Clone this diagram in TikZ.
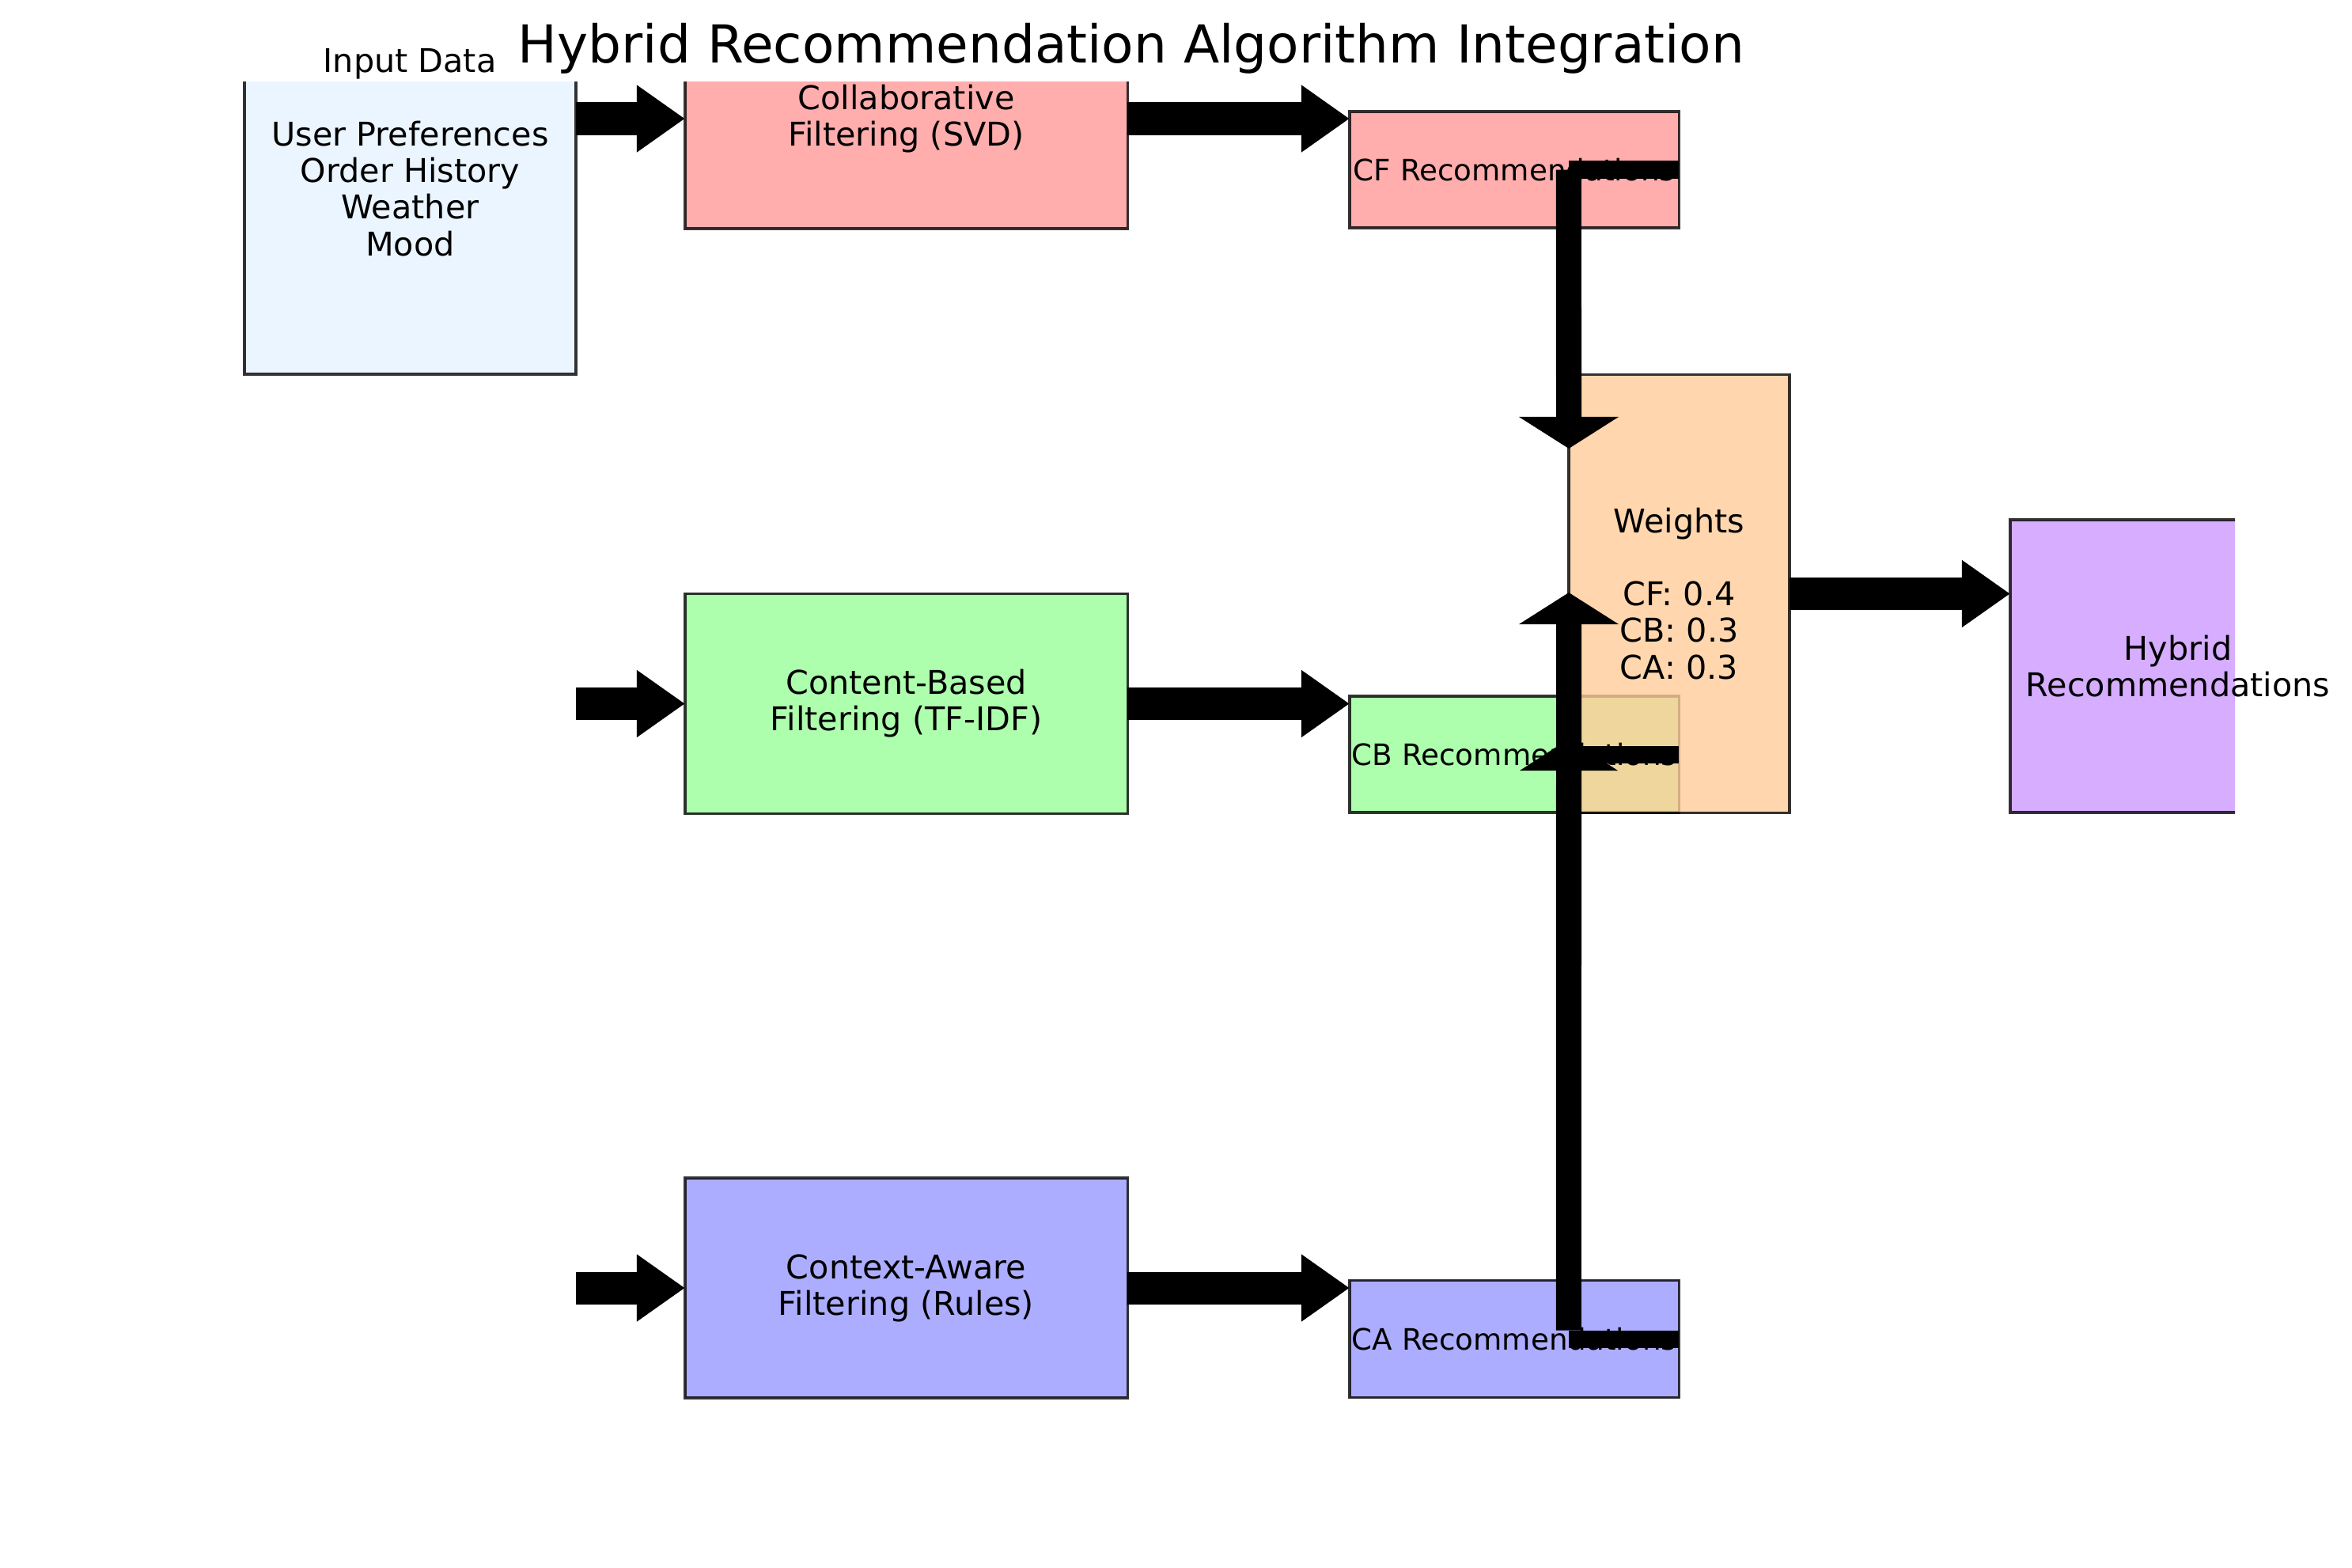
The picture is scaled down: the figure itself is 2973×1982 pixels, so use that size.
\documentclass[tikz,border=0pt]{standalone}
\usepackage{fontspec}
\setmainfont{DejaVu Sans}
\usetikzlibrary{arrows.meta}
\definecolor{inpc}{HTML}{E6F3FF}
\definecolor{cfc}{HTML}{FF9999}
\definecolor{cbc}{HTML}{99FF99}
\definecolor{cac}{HTML}{9999FF}
\definecolor{wc}{HTML}{FFCC99}
\definecolor{hc}{HTML}{CC99FF}
\newcommand{\mainsize}{\fontsize{11.75pt}{13.1pt}\selectfont}
\newcommand{\recsize}{\fontsize{10.6pt}{12pt}\selectfont}
\newcommand{\titlesize}{\fontsize{18.8pt}{22pt}\selectfont}
\tikzset{
  box/.style={rectangle, inner sep=0pt, outer sep=0pt, draw=black, draw opacity=0.8, fill opacity=0.8, line width=0.033cm},
  lbl/.style={inner sep=0pt, align=center, font=\mainsize},
  reclbl/.style={inner sep=0pt, font=\recsize},
  bigarrow/.style={line width=0.41cm, line cap=butt, -{Triangle[length=0.61cm,width=0.81cm]}},
  varrow/.style={line width=0.32cm, line cap=butt, -{Triangle[length=0.40cm,width=1.24cm]}},
  hbar/.style={line width=0.22cm, line cap=butt},
}
\begin{document}
\begin{tikzpicture}[x=0.01cm,y=-0.01cm]
\useasboundingbox (0,0) rectangle (2973,1982);
\begin{scope}
  \clip (0,104) rectangle (2825,1982);
  \node[box, fill=inpc, minimum width=4.19cm, minimum height=4.64cm] (inp) at (518.5,241) {};
  \node[box, fill=cfc, minimum width=5.59cm, minimum height=2.78cm] (coll) at (1145.5,150) {};
  \node[box, fill=cfc, minimum width=4.16cm, minimum height=1.47cm] (cfrec) at (1914,214.5) {};
  \node[box, fill=cbc, minimum width=5.59cm, minimum height=2.78cm] (cont) at (1145.5,889.5) {};
  \node[box, fill=cbc, minimum width=4.16cm, minimum height=1.47cm] (cbrec) at (1914,953.5) {};
  \node[box, fill=cac, minimum width=5.59cm, minimum height=2.78cm] (ctx) at (1145.5,1628) {};
  \node[box, fill=cac, minimum width=4.16cm, minimum height=1.48cm] (carec) at (1914,1692.5) {};
  \node[box, fill=wc, minimum width=2.79cm, minimum height=5.53cm] (wts) at (2122.5,750.5) {};
  \node[box, fill=hc, minimum width=4.24cm, minimum height=3.70cm] (hyb) at (2753,842) {};
\end{scope}
% texts
\node[lbl, font=\titlesize, anchor=base] (title) at (1430,80) {Hybrid Recommendation Algorithm Integration};
\node[lbl, anchor=base] (inplbl) at (518,92) {Input Data};
\node[lbl] (inptxt) at (518.5,238.5) {User Preferences\\Order History\\Weather\\Mood};
\node[lbl] (colltxt) at (coll.center) {Collaborative\\Filtering (SVD)};
\node[lbl] (conttxt) at (cont.center) {Content-Based\\Filtering (TF-IDF)};
\node[lbl] (ctxtxt) at (ctx.center) {Context-Aware\\Filtering (Rules)};
\node[reclbl] (cftxt) at (cfrec.center) {CF Recommendations};
\node[reclbl] (cbtxt) at (cbrec.center) {CB Recommendations};
\node[reclbl] (catxt) at (carec.center) {CA Recommendations};
\node[lbl] (wtxt) at (wts.center) {Weights\\[13.1pt]CF: 0.4\\CB: 0.3\\CA: 0.3};
\node[lbl] (htxt) at (hyb.center) {Hybrid\\Recommendations};
% arrows
\draw[bigarrow] (inp.east |- coll.west) -- (coll.west);
\draw[bigarrow] (cont.west -| inp.east) -- (cont.west);
\draw[bigarrow] (ctx.west -| inp.east) -- (ctx.west);
\draw[bigarrow] (coll.east) -- (coll.east -| cfrec.west);
\draw[bigarrow] (cont.east) -- (cont.east -| cbrec.west);
\draw[bigarrow] (ctx.east) -- (ctx.east -| carec.west);
\draw[bigarrow] (wts.east) -- (wts.east -| hyb.west);
% connectors into weights
\coordinate (cfjoin) at (cfrec.east -| wts.west);
\coordinate (cftip) at (1983,567);
\coordinate (cbjoin) at (cbrec.east -| wts.west);
\coordinate (cbtip) at (1983,934);
\coordinate (cajoin) at (carec.east -| wts.west);
\coordinate (catip) at (1983,749);
\draw[hbar] (cfrec.east) -- (cfjoin);
\draw[varrow] (cfjoin) -- (cftip);
\draw[hbar] (cbrec.east) -- (cbjoin);
\fill (cbtip) -- ++(-62,40) -- ++(124,0) -- cycle;
\draw[hbar] (carec.east) -- (cajoin);
\draw[varrow] ([yshift=0.11cm]cajoin) -- (catip);
\end{tikzpicture}
\end{document}
